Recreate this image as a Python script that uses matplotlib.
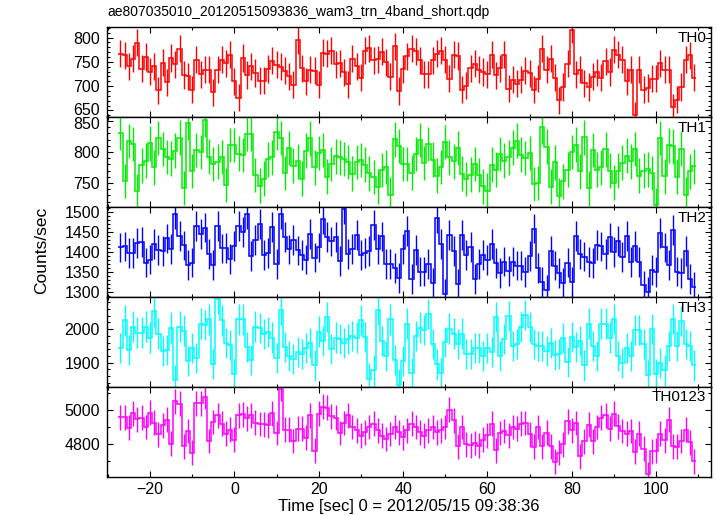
import numpy as np
import matplotlib
matplotlib.use("Agg")
import matplotlib.pyplot as plt
from matplotlib.ticker import MultipleLocator
from matplotlib.transforms import ScaledTranslation

plt.rcParams['font.family'] = ['Liberation Sans', 'DejaVu Sans']

title = "ae807035010_20120515093836_wam3_trn_4band_short.qdp"
xlabel = "Time [sec] 0 = 2012/05/15 09:38:36"
ylabel = "Counts/sec"

t_start = -27.5
bin_width = 1.0

th0 = [766.5, 763, 741, 756, 789, 736, 760, 730, 741, 691, 748, 708, 758, 745, 777, 723, 720, 693, 754, 724,
       734, 734, 687, 734, 754, 747, 765, 710, 676, 758, 723, 741, 727, 711, 711, 735, 752, 744, 740, 732,
       720, 703, 794,
       737, 710, 734, 732, 703, 769, 767, 773, 745, 747, 728, 704, 756, 741, 717, 773, 778, 753, 755, 771,
       749, 719, 782, 690, 735, 761, 777, 772, 753, 724, 724, 753, 767, 773, 754, 715, 765, 762, 693, 701,
       737, 746, 734, 729, 724, 765, 722, 737,
       765, 695, 713, 705, 713, 732, 726, 693, 715, 777, 734, 756, 717, 671, 698, 746, 816, 724, 734, 706,
       698, 719, 728, 717, 751, 729, 775, 765, 754, 710, 734, 640, 734, 693, 696, 715, 715, 747, 734, 734,
       656, 672, 698, 754, 763, 717]

th1 = [830.6, 753.1, 817.7, 812.9, 737.0, 778.4, 786.0, 813.9, 775.2, 822.5, 804.8, 791.9, 789.2, 802.1,
       823.1, 741.8, 846.8, 769.3, 803.2, 800.0, 851.6, 792.4, 780.6, 784.3, 791.9, 746.7, 811.2, 811.2,
       797.3, 795.1, 829.0, 829.0, 762.8, 745.6, 756.9, 788.1, 791.3, 831.7, 822.5, 766.1, 806.4, 777.9,
       784.9, 756.9, 802.1, 822.0, 775.2, 798.3, 803.2, 760.1, 780.6, 793.0, 791.3, 788.6, 783.8, 765.0,
       783.8, 787.0, 779.5, 765.5, 759.6, 744.0, 770.9, 775.7, 731.1, 820.4, 809.6, 780.6,
       780.6, 766.6, 796.7, 819.3, 782.2, 812.9, 787.6, 761.7, 775.7, 816.1, 791.3, 784.9, 806.4, 765.0,
       756.4, 763.4, 780.6, 762.8, 744.5, 737.5, 779.5, 771.4, 796.7, 786.0, 791.3, 807.0, 818.2, 795.6,
       790.3, 798.3, 748.3, 749.9, 840.3, 808.6, 744.0, 783.3, 729.5, 752.6, 771.4, 800.0, 811.8, 768.7,
       823.6, 741.3, 803.2, 771.4, 775.2, 804.2, 769.8, 750.4, 769.8, 782.7, 794.0, 784.9, 804.8, 761.7,
       769.8, 772.0, 766.1, 713.9, 822.5, 760.7, 810.7, 809.1, 760.1, 805.3, 731.1, 768.7, 776.8]

th2 = [1410.6, 1413.1, 1396.6, 1396.6, 1422.1, 1423.8, 1372.7, 1380.1, 1419.6, 1404.8, 1402.4, 1432.8,
       1407.3, 1493.7, 1438.6, 1415.5, 1366.2, 1372.7, 1463.3, 1444.3, 1460.0, 1394.1, 1366.2, 1463.3,
       1408.1, 1409.8, 1381.0, 1413.9, 1463.3, 1449.3, 1493.7, 1389.2, 1428.7, 1468.2, 1390.8, 1397.4,
       1461.6, 1369.4, 1494.5, 1436.1, 1405.7, 1428.7, 1403.2, 1392.5, 1380.1, 1443.5, 1385.1, 1410.6,
       1480.6, 1436.9, 1425.4, 1436.9, 1376.0, 1505.2, 1395.0, 1406.5, 1441.9, 1392.5, 1397.4, 1402.4,
       1465.7, 1407.3, 1437.8, 1369.4, 1368.6, 1358.7, 1334.1, 1407.3,
       1451.7, 1332.4, 1404.8, 1350.5, 1350.5, 1369.4, 1321.7, 1484.7, 1418.8, 1295.4, 1441.0, 1401.5,
       1320.1, 1441.0, 1391.7, 1412.2, 1331.6, 1369.4, 1392.5, 1378.5, 1418.8, 1371.9, 1346.4, 1375.2,
       1351.3, 1375.2, 1365.3, 1365.3, 1348.9, 1388.4, 1457.5, 1358.7, 1324.2, 1303.6, 1402.4, 1365.3,
       1346.4, 1321.7, 1372.7, 1324.2, 1439.4, 1394.1, 1387.6, 1373.6, 1371.1, 1416.4, 1413.1, 1394.1,
       1435.3, 1398.3, 1427.1, 1385.9, 1438.6, 1373.6, 1414.7, 1373.6, 1316.0, 1299.5, 1354.6, 1348.9,
       1446.0, 1410.6, 1367.0, 1453.4, 1350.5, 1346.4, 1401.5, 1332.4, 1311.8]

th3 = [1945, 2026, 1939, 2008, 1990, 1990, 2008, 1975, 2053, 1987, 1935, 1939, 2005, 1849, 2008, 1996,
       1906, 1943, 1913, 2017, 2013, 2029, 1897, 2090, 2026, 1958, 1952, 1865, 2029, 2029, 1946, 1907,
       2008, 2003, 1985, 1992, 1975, 1915, 2057, 1947, 1919, 1910, 1933, 1925, 1945, 1960, 1892, 1993,
       1966, 2037, 1940, 1975, 1970, 1960, 1970, 1980, 1975, 2027, 1977, 1853, 1877, 2058, 1966, 1921,
       2029, 1907, 1835, 1905,
       2017, 1870, 1980, 2005, 1997, 2045, 1955, 1895, 1870, 1962, 2002, 1987, 1957, 1987, 1925, 1925,
       1945, 1943, 1919, 1943, 1933, 2037, 1920, 1970, 2040, 1950, 1957, 2007, 2043, 2007, 1955, 1950,
       1950, 1935, 1960, 1923, 1925, 1973, 1902, 1977, 1947, 1965, 1892, 2017, 1950, 1920, 2017, 2017,
       1975, 2030, 1920, 1900, 1945, 1920, 1997, 1997, 1955, 1862, 2000, 1867, 1900, 1877, 1950, 2030,
       1950, 2025, 1955, 1950, 1892]

th0123 = [4957.6, 4957.6, 4896.1, 4978.7, 4944.1, 4953.7, 4900.0, 4982.6, 4924.9, 4857.7, 4909.6, 4942.2,
          4803.9, 5049.8, 5034.4, 4788.5, 4876.9, 4750.1, 5038.3, 5038.3, 5076.7, 4819.3, 4928.8, 4967.2,
          4919.2, 4861.5, 4884.6, 4827.0, 4969.1, 4973.0, 4951.8, 4969.1, 4924.9, 4917.3, 4915.3, 4909.6,
          4980.6, 4865.4, 5120.9, 4884.6, 4884.6, 4819.3, 4890.4, 4890.4, 4838.5, 4967.2, 4761.6, 4976.8,
          5019.1, 5011.4, 4961.4, 4953.7, 4865.4, 4923.0, 4967.2,
          4900, 4880, 4850, 4870, 4900, 4920, 4880, 4850, 4830, 4860, 4900, 4870, 4840, 4880, 4920, 4900,
          4870, 4850, 4880, 4900, 4870, 4880, 4900, 4999.9,
          4938.4, 4788.5, 4900.0, 4800.1, 4794.3, 4807.8, 4792.4, 4827.0, 4851.9, 4919.2, 4765.5, 4865.4,
          4876.9, 4851.9, 4900.0, 4890.4, 4919.2, 4923.0, 4857.7, 4784.7, 4900.0, 4788.5, 4867.3, 4788.5,
          4698.3, 4750.1, 4800.1, 4932.6, 4880.7, 4923.0, 4730.9, 4817.4, 4913.4, 4817.4, 4900.0, 4953.7,
          4969.1, 4890.4, 4976.8, 4903.8, 4876.9, 4861.5, 4876.9, 4755.9, 4861.5, 4775.1, 4625.3, 4759.7,
          4761.6, 4861.5, 4823.1, 4942.2, 4788.5, 4784.7, 4819.3, 4884.6, 4811.6, 4702.1]

names = ["TH0", "TH1", "TH2", "TH3", "TH0123"]
series = [th0, th1, th2, th3, th0123]
errors = [28, 28, 37, 45, 72]
colors = ["#ff0000", "#00ee00", "#0000ff", "#00ffff", "#ff00ff"]
ylims = [(636, 821), (711, 856), (1287, 1511), (1828, 2096), (4611, 5133)]
major = [50, 50, 50, 100, 200]
minor = [10, 10, 10, 20, 100]

W, H = 717, 516
fig = plt.figure(figsize=(W / 100, H / 100), dpi=100)

left = 107 / W
width = 604 / W
top_px = 27.3
panel_h = 89.9

axes = []
for i, (name, vals, err, c, yl, mj, mn) in enumerate(zip(names, series, errors, colors, ylims, major, minor)):
    vals = np.asarray(vals, dtype=float)
    n = len(vals)
    edges = t_start + bin_width * np.arange(n + 1)
    centers = 0.5 * (edges[:-1] + edges[1:])
    bottom = 1 - (top_px + (i + 1) * panel_h) / H
    ax = fig.add_axes([left, bottom, width, panel_h / H])
    ax.errorbar(centers, vals, yerr=err, fmt='none', ecolor=c, elinewidth=1.0, capsize=0)
    ax.stairs(vals, edges, baseline=None, color=c, lw=1.1)
    ax.set_xlim(-30.2, 113.0)
    ax.set_ylim(*yl)
    ax.xaxis.set_major_locator(MultipleLocator(20))
    ax.xaxis.set_minor_locator(MultipleLocator(10))
    ax.yaxis.set_major_locator(MultipleLocator(mj))
    ax.yaxis.set_minor_locator(MultipleLocator(mn))
    ax.tick_params(which='both', direction='in', top=True, right=True, labelsize=11.5, width=0.8)
    ax.tick_params(axis='y', pad=5)
    ax.tick_params(which='major', length=4.5)
    ax.tick_params(which='minor', length=2.5)
    for s in ax.spines.values():
        s.set_linewidth(1.0)
    if i < 4:
        ax.tick_params(labelbottom=False)
    ax.text(0.992, 0.96, name, transform=ax.transAxes, ha='right', va='top', fontsize=11)
    axes.append(ax)

fig.text(107 / W, 1 - 12 / H, title, ha='left', va='center', fontsize=10)
fig.text(42 / W, 1 - 250 / H, ylabel, rotation=90, ha='center', va='center', fontsize=12.5)
fig.text(409 / W, 1 - 507 / H, xlabel, ha='center', va='center', fontsize=12)

# nudge the two crowded labels at the TH0/TH1 boundary slightly apart
fig.canvas.draw()
def nudge(ax, value, dy_px):
    for tick in ax.yaxis.get_major_ticks():
        if abs(tick.get_loc() - value) < 1e-6:
            lab = tick.label1
            lab.set_transform(lab.get_transform() + ScaledTranslation(0, dy_px / 100, fig.dpi_scale_trans))
nudge(axes[0], 650, 1.8)
nudge(axes[1], 850, -1.8)

fig.savefig("out.png", dpi=100)
